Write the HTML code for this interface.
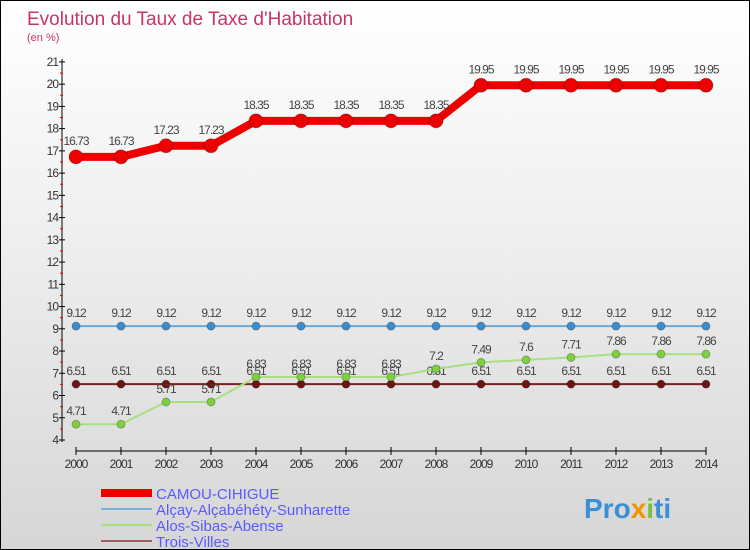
<!DOCTYPE html>
<html><head><meta charset="utf-8"><style>
body{margin:0}
#c{width:748px;height:548px;border:1px solid #000;background:linear-gradient(#ffffff,#f0f0f0 40%,#d6d6d6);position:relative;overflow:hidden;font-family:"Liberation Sans",sans-serif}
</style></head><body>
<div id="c">
<svg id="s" width="748" height="548">
<text x="26" y="24" font-size="19" fill="#c8336a">Evolution du Taux de Taxe d'Habitation</text>
<text x="26" y="40" font-size="11" fill="#c8336a">(en %)</text>
<g id="g"></g>
<text x="583" y="517" font-size="28" font-weight="bold" fill="#3a8fd8">Pro<tspan fill="#f29400">x</tspan><tspan fill="#7ac143">i</tspan>ti</text>
</svg>
</div>
<script>
const years=[2000,2001,2002,2003,2004,2005,2006,2007,2008,2009,2010,2011,2012,2013,2014];
const camou=[16.73,16.73,17.23,17.23,18.35,18.35,18.35,18.35,18.35,19.95,19.95,19.95,19.95,19.95,19.95];
const alcay=[9.12,9.12,9.12,9.12,9.12,9.12,9.12,9.12,9.12,9.12,9.12,9.12,9.12,9.12,9.12];
const alos=[4.71,4.71,5.71,5.71,6.83,6.83,6.83,6.83,7.2,7.49,7.6,7.71,7.86,7.86,7.86];
const trois=[6.51,6.51,6.51,6.51,6.51,6.51,6.51,6.51,6.51,6.51,6.51,6.51,6.51,6.51,6.51];
const yTicks=[4,5,6,7,8,9,10,11,12,13,14,15,16,17,18,19,20,21];
const seriesNames=["CAMOU-CIHIGUE","Alçay-Alçabéhéty-Sunharette","Alos-Sibas-Abense","Trois-Villes"];
const NS="http://www.w3.org/2000/svg";
const g=document.getElementById('g');
const X=i=>75+i*45;
const Y=v=>439-(v-4)*22.24;
function mk(t,a,p){const e=document.createElementNS(NS,t);for(const k in a)e.setAttribute(k,a[k]);(p||g).appendChild(e);return e;}
let e=mk('line',{x1:61,y1:58,x2:61,y2:441,stroke:'#000','stroke-width':1});


e=mk('line',{x1:75,y1:450,x2:705,y2:450,stroke:'#000','stroke-width':1});


yTicks.forEach(v=>{
 mk('line',{x1:58,y1:Y(v),x2:64,y2:Y(v),stroke:'#000'});
 if(v<21)mk('line',{x1:59,y1:Y(v+0.5),x2:62,y2:Y(v+0.5),stroke:'#e00'});
 const t=mk('text',{x:57,y:Y(v)+4,'font-size':12,'text-anchor':'end',fill:'#333','letter-spacing':'-1'});t.textContent=v;
 
 
});
years.forEach((yr,i)=>{
 mk('line',{x1:X(i),y1:446,x2:X(i),y2:454,stroke:'#000'});
 const t=mk('text',{x:X(i),y:467,'font-size':12,'text-anchor':'middle',fill:'#333','letter-spacing':'-1'});t.textContent=yr;
 
 
});
function series(d,col,w,r,dot,name){
 const pts=d.map((v,i)=>X(i)+','+Y(v)).join(' ');
 const p=mk('polyline',{points:pts,fill:'none',stroke:col,'stroke-width':w,'stroke-linejoin':'round'});
 
 
 d.forEach((v,i)=>{
  const c=mk('circle',{cx:X(i),cy:Y(v),r:r,fill:dot,stroke:'rgba(0,0,0,0.25)','stroke-width':1});
  
  
  const t=mk('text',{x:X(i),y:Y(v)-(r+5),'font-size':12,'text-anchor':'middle',fill:'#444','letter-spacing':'-1'});
  t.textContent=v;
  
  
 });
}
series(trois,'#7a2020',2,4,'#6e1414','trois-villes');
series(alos,'#a8e080',2,4,'#7ed040','alos-sibas-abense');
series(alcay,'#6aa8d8',2,4,'#3d8ccc','alcay');
series(camou,'#ee0000',8,7,'#ee0000','camou-cihigue');
const lc=['#ee0000','#7ab0d8','#a8e080','#a06060'];const lw=[8,2,2,2];
seriesNames.forEach((n,i)=>{
 const y=492+i*16;
 const l=mk('line',{x1:100,y1:y,x2:151,y2:y,stroke:lc[i],'stroke-width':lw[i]});
 
 
 const t=mk('text',{x:155,y:y+6,'font-size':15,fill:'#5a5aff'});t.textContent=n;
 
 
});
</script>
</body></html>
